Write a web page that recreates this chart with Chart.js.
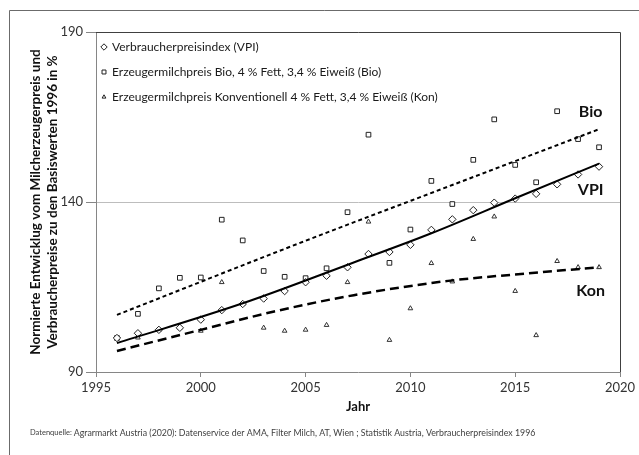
<!DOCTYPE html>
<html lang="de">
<head>
<meta charset="utf-8">
<title>Milcherzeugerpreis und VPI</title>
<script src="https://cdn.jsdelivr.net/npm/chart.js@4.4.1/dist/chart.umd.min.js"></script>
<style>
  html, body { margin: 0; padding: 0; background: #fff; }
  canvas { display: block; }
</style>
</head>
<body>
<canvas id="chart" width="639" height="455"></canvas>
<script>
// Werte (1996 = 100)
const years = [1996, 1997, 1998, 1999, 2000, 2001, 2002, 2003, 2004, 2005, 2006, 2007,
               2008, 2009, 2010, 2011, 2012, 2013, 2014, 2015, 2016, 2017, 2018, 2019];
const vpi = [100, 101.4, 102.4, 103, 105.4, 108.2, 110, 111.6, 113.8, 116.4, 118.3, 120.8,
             124.7, 125.3, 127.4, 131.8, 134.9, 137.6, 139.8, 141, 142.4, 145.2, 148.1, 150.4];
const bio = [100, 107.1, 114.6, 117.7, 117.8, 134.8, 128.7, 119.7, 118, 117.6, 120.5, 137,
             159.8, 122.1, 131.9, 146.2, 139.4, 152.4, 164.3, 150.9, 145.8, 166.7, 158.5, 156.1];
const kon = [100, 100.1, 102.4, 103, 102.1, 116.4, 110, 103, 102.1, 102.4, 103.8, 116.4,
             134.2, 99.4, 108.7, 122, 116.6, 129.1, 135.7, 113.8, 100.8, 122.6, 120.8, 120.8];

// Trendlinien (Verlauf)
const vpiTrendYears = [1996, 2002, 2007.2, 2011, 2015, 2019];
const vpiTrend = [98.5, 110.2, 122, 130.8, 141.1, 151.3];
const bioTrendYears = [1996, 2005, 2012, 2019];
const bioTrend = [106.8, 128.6, 145, 161.4];
const konTrendYears = [1996, 2000, 2003.5, 2007.3, 2011.8, 2015, 2019];
const konTrend = [96.2, 102.4, 107.8, 112.6, 116.8, 118.7, 120.8];

const xTicks = [1995, 2000, 2005, 2010, 2015, 2020];
const yTicks = [90, 140, 190];

const seriesNames = [
  'Verbraucherpreisindex (VPI)',
  'Erzeugermilchpreis Bio, 4 % Fett, 3,4 % Eiweiß (Bio)',
  'Erzeugermilchpreis Konventionell 4 % Fett, 3,4 % Eiweiß (Kon)'
];
const endLabels = ['Bio', 'VPI', 'Kon'];

const FONT = 'Lato, "Open Sans", sans-serif';
const toXY = (xs, ys) => xs.map((x, i) => ({ x: x, y: ys[i] }));

// weisser Hintergrund, Rahmen, Legende, Beschriftungen, Quelle
const decorPlugin = {
  id: 'decor',
  beforeDraw(chart) {
    const ctx = chart.ctx;
    ctx.save();
    ctx.fillStyle = '#fff';
    ctx.fillRect(0, 0, chart.width, chart.height);
    ctx.strokeStyle = '#6b6b6b';
    ctx.lineWidth = 1;
    ctx.beginPath();
    ctx.moveTo(9.5, chart.height);
    ctx.lineTo(9.5, 10.5);
    ctx.lineTo(chart.width, 10.5);
    ctx.stroke();
    ctx.restore();
  },
  afterDraw(chart) {
    const ctx = chart.ctx;
    const area = chart.chartArea;
    const xs = chart.scales.x;
    const ys = chart.scales.y;
    ctx.save();

    // Rahmen oben / rechts
    ctx.strokeStyle = '#404040';
    ctx.lineWidth = 1;
    ctx.beginPath();
    ctx.moveTo(area.left, Math.round(area.top) + 0.5);
    ctx.lineTo(Math.round(area.right) + 0.5, Math.round(area.top) + 0.5);
    ctx.lineTo(Math.round(area.right) + 0.5, area.bottom);
    ctx.stroke();

    // Legende im Diagramm
    ctx.font = '12px ' + FONT;
    ctx.textBaseline = 'middle';
    ctx.textAlign = 'left';
    chart.data.datasets.filter(d => d.legendRow !== undefined).forEach(d => {
      const y = area.top + 15 + d.legendRow * 25;
      ctx.strokeStyle = '#222';
      ctx.fillStyle = '#fff';
      Chart.helpers.drawPoint(ctx, {
        pointStyle: d.pointStyle, radius: d.pointRadius - 0.5, borderWidth: 1, rotation: 0
      }, area.left + 8, y);
      ctx.fillStyle = '#1a1a1a';
      ctx.fillText(d.label, area.left + 16, y);
    });

    // Kurzbezeichnungen am rechten Rand
    ctx.font = 'bold 16px ' + FONT;
    ctx.textAlign = 'center';
    ctx.fillStyle = '#111';
    const labelY = [166.5, 143.6, 114];
    endLabels.forEach((t, i) => {
      ctx.fillText(t, xs.getPixelForValue(2018.6), ys.getPixelForValue(labelY[i]));
    });

    // Quelle
    ctx.textAlign = 'left';
    ctx.fillStyle = '#404040';
    ctx.font = '7.5px ' + FONT;
    const lead = 'Datenquelle: ';
    ctx.fillText(lead, 30, 433);
    const w = ctx.measureText(lead).width;
    ctx.font = '8.8px ' + FONT;
    ctx.fillText('Agrarmarkt Austria (2020): Datenservice der AMA, Filter Milch, AT, Wien ; Statistik Austria, Verbraucherpreisindex 1996', 30 + w, 433);
    ctx.restore();
  }
};

const ctx = document.getElementById('chart').getContext('2d');

new Chart(ctx, {
  type: 'scatter',
  data: {
    datasets: [
      {
        label: 'Trend VPI',
        data: toXY(vpiTrendYears, vpiTrend),
        showLine: true,
        borderColor: '#000',
        borderWidth: 2,
        pointRadius: 0,
        cubicInterpolationMode: 'monotone'
      },
      {
        label: 'Trend Bio',
        data: toXY(bioTrendYears, bioTrend),
        showLine: true,
        borderColor: '#000',
        borderWidth: 2,
        borderDash: [4, 3],
        pointRadius: 0,
        cubicInterpolationMode: 'monotone'
      },
      {
        label: 'Trend Kon',
        data: toXY(konTrendYears, konTrend),
        showLine: true,
        borderColor: '#000',
        borderWidth: 2.5,
        borderDash: [9, 5],
        pointRadius: 0,
        cubicInterpolationMode: 'monotone'
      },
      {
        label: seriesNames[0],
        legendRow: 0,
        data: toXY(years, vpi),
        pointStyle: 'rectRot',
        pointRadius: 3.7,
        borderWidth: 1,
        borderColor: '#222',
        backgroundColor: '#fff'
      },
      {
        label: seriesNames[1],
        legendRow: 1,
        data: toXY(years, bio),
        pointStyle: 'rect',
        pointRadius: 3.3,
        borderWidth: 1,
        borderColor: '#222',
        backgroundColor: '#fff'
      },
      {
        label: seriesNames[2],
        legendRow: 2,
        data: toXY(years, kon),
        pointStyle: 'triangle',
        pointRadius: 2.7,
        borderWidth: 1,
        borderColor: '#333',
        backgroundColor: '#fff'
      }
    ]
  },
  options: {
    responsive: false,
    animation: false,
    devicePixelRatio: 1,
    layout: { padding: { left: 0, right: 19, top: 32, bottom: 0 } },
    plugins: {
      legend: { display: false },
      tooltip: { enabled: false }
    },
    scales: {
      x: {
        type: 'linear',
        min: 1995,
        max: 2020,
        afterBuildTicks: scale => { scale.ticks = xTicks.map(v => ({ value: v })); },
        afterFit: scale => { scale.height = 83; },
        border: { color: '#868686' },
        grid: { drawOnChartArea: false, tickLength: 5, tickColor: '#868686' },
        ticks: {
          callback: v => String(v),
          color: '#333',
          padding: 3,
          maxRotation: 0,
          font: { family: FONT, size: 13 }
        },
        title: {
          display: true,
          text: 'Jahr',
          color: '#111',
          font: { family: FONT, size: 13, weight: 'bold' },
          padding: { top: 0, bottom: 40 }
        }
      },
      y: {
        min: 90,
        max: 190,
        afterBuildTicks: scale => { scale.ticks = yTicks.map(v => ({ value: v })); },
        afterFit: scale => { scale.width = 96; },
        border: { color: '#868686' },
        grid: {
          color: c => (c.tick && c.tick.value === 140 ? '#bdbdbd' : 'rgba(0,0,0,0)'),
          tickColor: '#868686',
          tickLength: 10
        },
        ticks: {
          color: '#333',
          padding: 3,
          font: { family: FONT, size: 13 }
        },
        title: {
          display: true,
          text: ['Normierte Entwicklug vom Milcherzeugerpreis und',
                 'Verbraucherpreise zu den Basiswerten 1996 in %'],
          color: '#111',
          font: { family: FONT, size: 13.5, weight: 'bold', lineHeight: 1.25 },
          padding: { top: 27, bottom: 0 }
        }
      }
    }
  },
  plugins: [decorPlugin]
});
</script>
</body>
</html>
